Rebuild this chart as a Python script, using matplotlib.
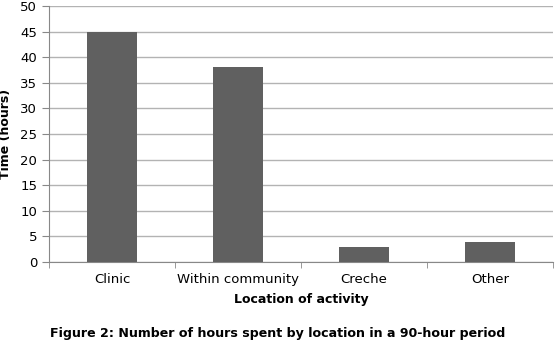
import matplotlib.pyplot as plt

categories = ['Clinic', 'Within community', 'Creche', 'Other']
hours = [45, 38, 3, 4]
yticks = list(range(0, 51, 5))

fig = plt.figure(figsize=(5.56, 3.49), dpi=100)
ax = fig.add_axes([0.088, 0.249, 0.907, 0.734])

x = range(len(categories))
ax.bar(x, hours, width=0.4, color='#606060', zorder=3)

ax.set_xlim(-0.5, len(categories) - 0.5)
ax.set_ylim(0, 50)
ax.set_yticks(yticks)
ax.yaxis.grid(True, color='#b3b3b3', linewidth=1, zorder=0)
ax.set_xticks(list(x))
ax.set_xticklabels(categories, fontsize=9.5)
ax.tick_params(axis='x', length=0, pad=8)
ax.set_xticks([i + 0.5 for i in range(-1, len(categories))], minor=True)
ax.tick_params(axis='x', which='minor', length=4, color='#888888')
ax.tick_params(axis='y', length=5, color='#888888', labelsize=9.5)

for s in ['top', 'right']:
    ax.spines[s].set_visible(False)
for s in ['left', 'bottom']:
    ax.spines[s].set_color('#888888')

ax.set_ylabel('Time (hours)', fontsize=9, fontweight='bold', labelpad=6)
ax.set_xlabel('Location of activity', fontsize=9, fontweight='bold', labelpad=5)

fig.text(0.5, 0.033, 'Figure 2: Number of hours spent by location in a 90-hour period',
         ha='center', fontsize=9.1, fontweight='bold')

fig.savefig('out.png', dpi=100)
